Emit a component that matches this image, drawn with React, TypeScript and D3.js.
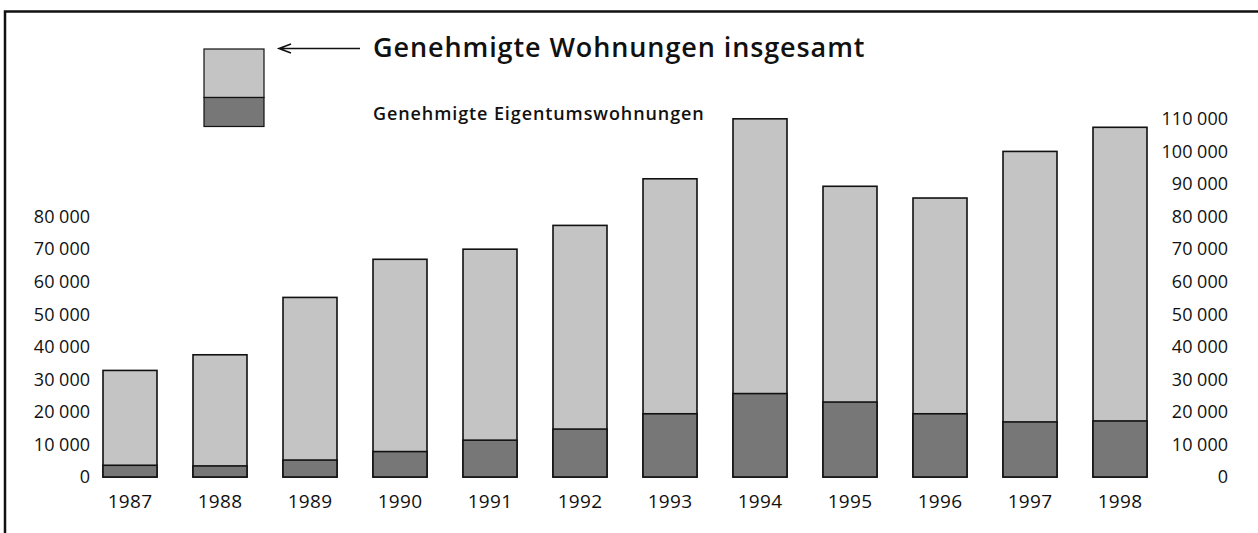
import * as d3 from 'd3'
import React, { useEffect, useRef } from "react";

const years = ['1987', '1988', '1989', '1990', '1991', '1992', '1993', '1994', '1995', '1996', '1997', '1998'];
const totalFlats = [32700, 37500, 55100, 66800, 69900, 77200, 91500, 109900, 89200, 85600, 99900, 107300];
const ownerFlats = [3600, 3400, 5200, 7800, 11300, 14700, 19400, 25600, 23000, 19400, 16900, 17200];
const leftTicks = [0, 10000, 20000, 30000, 40000, 50000, 60000, 70000, 80000];
const rightTicks = [0, 10000, 20000, 30000, 40000, 50000, 60000, 70000, 80000, 90000, 100000, 110000];

const titleText = 'Genehmigte Wohnungen insgesamt';
const subText = 'Genehmigte Eigentumswohnungen';

const fmt = (v: number) => v === 0 ? '0' : d3.format(',')(v).replace(/,/g, ' ');

const Chart: React.FC = () => {
    const ref = useRef<SVGSVGElement>(null);

    useEffect(() => {
        if (!ref.current) return;
        const width = 1258;
        const height = 533;
        const font = "'Open Sans', sans-serif";
        const svg = d3.select(ref.current)
            .attr('width', width)
            .attr('height', height);
        svg.selectAll('*').remove();

        // frame: only top and left edges show
        svg.append('path')
            .attr('d', `M5,${height} L5,11.5 L${width},11.5`)
            .attr('fill', 'none')
            .attr('stroke', '#111')
            .attr('stroke-width', 2.5);

        const x = d3.scaleBand<string>()
            .domain(years)
            .range([85, 1165])
            .paddingInner(0.4)
            .paddingOuter(0.2);
        const y = d3.scaleLinear().domain([0, 110000]).range([477, 118.5]);

        const bars = svg.append('g');
        years.forEach((yr, i) => {
            bars.append('rect')
                .attr('x', x(yr)!)
                .attr('y', y(totalFlats[i]))
                .attr('width', x.bandwidth())
                .attr('height', y(0) - y(totalFlats[i]))
                .attr('fill', '#c4c4c4')
                .attr('stroke', '#111')
                .attr('stroke-width', 1.6);
            bars.append('rect')
                .attr('x', x(yr)!)
                .attr('y', y(ownerFlats[i]))
                .attr('width', x.bandwidth())
                .attr('height', y(0) - y(ownerFlats[i]))
                .attr('fill', '#777')
                .attr('stroke', '#111')
                .attr('stroke-width', 1.6);
        });

        // year labels
        svg.append('g').selectAll('text')
            .data(years)
            .join('text')
            .attr('x', d => x(d)! + x.bandwidth() / 2)
            .attr('y', 508)
            .attr('text-anchor', 'middle')
            .attr('font-family', font)
            .attr('font-size', 19)
            .attr('letter-spacing', 0.3)
            .attr('fill', '#111')
            .text(d => d);

        // left and right value labels
        svg.append('g').selectAll('text')
            .data(leftTicks)
            .join('text')
            .attr('x', 90)
            .attr('y', d => y(d))
            .attr('dy', '0.36em')
            .attr('text-anchor', 'end')
            .attr('font-family', font)
            .attr('font-size', 18)
            .attr('fill', '#111')
            .text(d => fmt(d));

        svg.append('g').selectAll('text')
            .data(rightTicks)
            .join('text')
            .attr('x', 1228)
            .attr('y', d => y(d))
            .attr('dy', '0.36em')
            .attr('text-anchor', 'end')
            .attr('font-family', font)
            .attr('font-size', 18)
            .attr('fill', '#111')
            .text(d => fmt(d));

        // legend key
        const key = svg.append('g');
        key.append('rect')
            .attr('x', 204).attr('y', 49).attr('width', 60).attr('height', 48.5)
            .attr('fill', '#c4c4c4').attr('stroke', '#111').attr('stroke-width', 1.2);
        key.append('rect')
            .attr('x', 204).attr('y', 97.5).attr('width', 60).attr('height', 29)
            .attr('fill', '#777').attr('stroke', '#111').attr('stroke-width', 1.2);

        key.append('path')
            .attr('d', 'M360,48.5 L279,48.5 M291,44 L279,48.5 L291,53')
            .attr('fill', 'none')
            .attr('stroke', '#111')
            .attr('stroke-width', 1.6);

        key.append('text')
            .attr('x', 373).attr('y', 57)
            .attr('font-family', font)
            .attr('font-size', 27)
            .attr('font-weight', 600)
            .attr('letter-spacing', 0.9)
            .attr('fill', '#111')
            .text(titleText);

        key.append('text')
            .attr('x', 373).attr('y', 120)
            .attr('font-family', font)
            .attr('font-size', 18)
            .attr('font-weight', 600)
            .attr('letter-spacing', 0.9)
            .attr('fill', '#111')
            .text(subText);
    }, []);

    return (<svg ref={ref} style={{ position: 'absolute', left: 0, top: 0, display: 'block' }}></svg>);
}

export default function App() {
    return <Chart />;
}
